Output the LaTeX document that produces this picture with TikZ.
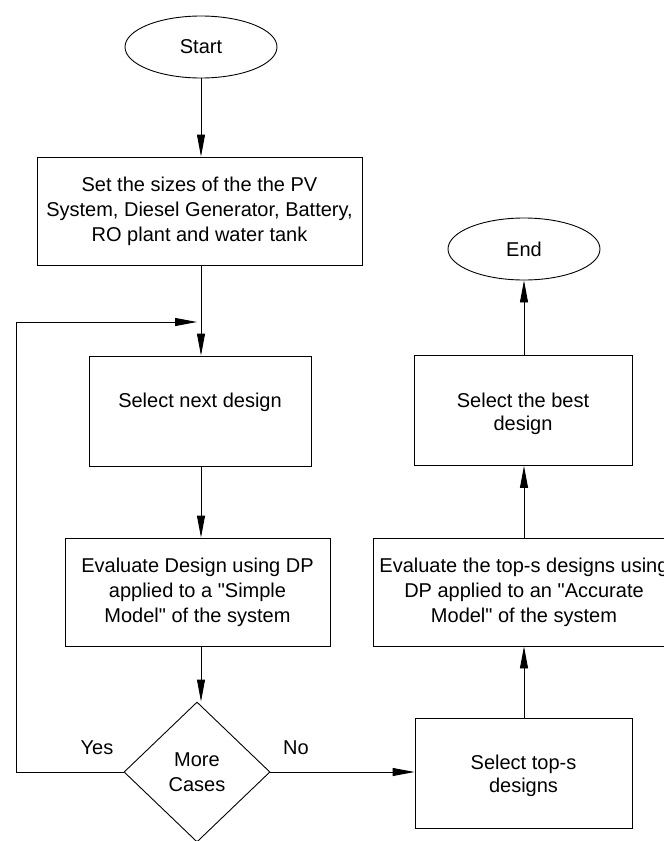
\documentclass[tikz,border=0pt]{standalone}
\usepackage{fontspec}
\setmainfont{Liberation Sans}
\usetikzlibrary{arrows.meta,shapes.geometric}
\begin{document}
\begin{tikzpicture}[x=1pt,y=-1pt,
  every node/.style={font=\fontsize{20}{25}\selectfont, align=center, inner sep=0pt},
  tight/.style={font=\fontsize{20}{22.5}\selectfont},
  procbox/.style={draw, line width=0.9pt, rectangle},
  term/.style={draw, line width=0.9pt, ellipse},
  decis/.style={draw, line width=0.9pt, diamond, aspect=1.04},
  conn/.style={line width=0.9pt, -{Triangle[length=22pt,width=8pt]}},
  plain/.style={line width=0.9pt}]
\useasboundingbox (0,0) rectangle (664,841);
\node[term, minimum width=152pt, minimum height=62pt] (start) at (201,47) {Start};
\node[procbox, minimum width=325pt, minimum height=108pt] (set) at (199.5,211) {Set the sizes of the the PV\\System, Diesel Generator, Battery,\\RO plant and water tank};
\node[procbox, minimum width=222pt, minimum height=110pt] (sel) at (200,411) {};
\node (selt) at (200,402) {Select next design};
\node[procbox, minimum width=265pt, minimum height=108pt] (eval) at (197.5,592) {Evaluate Design using DP\\applied to a \textquotedbl Simple\\Model\textquotedbl{} of the system};
\node[decis, minimum width=146pt, minimum height=140pt] (more) at (197,772) {More\\Cases};
\node[procbox, minimum width=217pt, minimum height=110pt] (top) at (523.5,773) {};
\node[tight] (topt) at (523.5,776) {Select top-s\\designs};
\node[procbox, minimum width=302pt, minimum height=108pt] (evalacc) at (524,592) {Evaluate the top-s designs using\\DP applied to an \textquotedbl Accurate\\Model\textquotedbl{} of the system};
\node[procbox, minimum width=218pt, minimum height=110pt] (best) at (523,410.5) {};
\node[tight] (bestt) at (523,414) {Select the best\\design};
\node[term, minimum width=152pt, minimum height=62pt] (end) at (524,249) {End};
\coordinate (merge) at (201,322);
\coordinate (lcorner) at (16,772);
\coordinate (ucorner) at (16,322);
\node (yes) at (97,748) {Yes};
\node (no) at (296,748) {No};
\draw[conn] (start.south) -- (set.north -| start.south);
\draw[plain] (set.south -| merge) -- (merge);
\draw[conn] (merge) -- (merge |- sel.north);
\draw[conn] (more.west) -- (lcorner) -- (ucorner) -- ([xshift=-4pt]merge);
\draw[conn] (sel.south -| merge) -- (eval.north -| merge);
\draw[conn] (eval.south -| merge) -- (merge |- more.north);
\draw[conn] (more.east) -- (more.east -| top.west);
\draw[conn] (top.north -| end) -- (evalacc.south -| end);
\draw[conn] (evalacc.north -| end) -- (best.south -| end);
\draw[conn] (best.north -| end) -- (end.south);
\end{tikzpicture}
\end{document}
